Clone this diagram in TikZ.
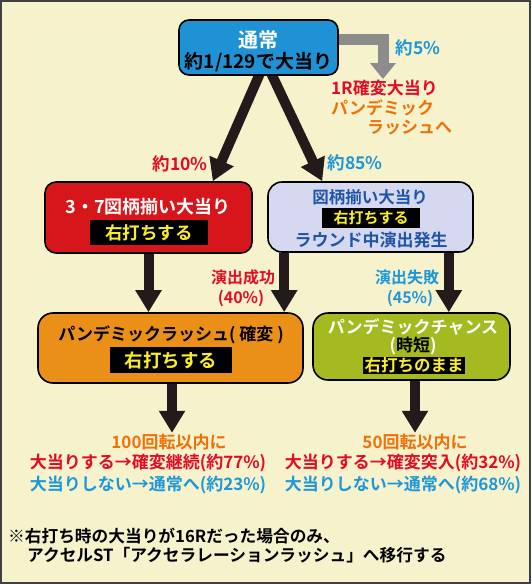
\documentclass[tikz,border=0pt]{standalone}
\usepackage{fontspec}
\setmainfont{Noto Sans CJK JP}[BoldFont = {Noto Sans CJK JP Bold}]
\usetikzlibrary{arrows.meta}

\definecolor{cream}{RGB}{246,243,204}
\definecolor{boxblue}{RGB}{30,146,212}
\definecolor{boxred}{RGB}{214,22,27}
\definecolor{boxlav}{RGB}{214,216,240}
\definecolor{boxorange}{RGB}{234,144,24}
\definecolor{boxgreen}{RGB}{164,186,32}
\definecolor{txtred}{RGB}{228,10,35}
\definecolor{txtblue}{RGB}{30,150,218}
\definecolor{txtorange}{RGB}{240,112,10}
\definecolor{txtnavy}{RGB}{30,85,165}
\definecolor{baryellow}{RGB}{250,238,40}
\definecolor{arrowblack}{RGB}{35,27,27}
\definecolor{arrowgray}{RGB}{140,140,140}

\newcommand{\jpsize}[1]{\fontsize{#1}{#1}\selectfont\bfseries}

\pgfdeclarelayer{back}
\pgfsetlayers{back,main}

\begin{document}
\begin{tikzpicture}[x = 1pt, y = -1pt,
        box/.style = {draw = black, line width = 1.6pt, inner sep = 0pt},
        bar/.style = {fill = black, text = baryellow, inner sep = 0pt},
        lbl/.style = {inner sep = 1pt, font = \jpsize{17}},
        fatarrow/.style = {draw = arrowblack, line width = 10pt,
            -{Triangle[length = 22pt, width = 25pt]}}]

    \useasboundingbox (0, 0) rectangle (531, 584);

    % Top box.
    \node[box, fill = boxblue, rounded corners = 10pt, minimum width = 159pt, minimum height = 55pt] (tsujo) at (258.5, 47.5) {};
    \node[lbl, text = white, font = \jpsize{20}] (tsujoA) at (258.5, 40) {通常};
    \node[lbl, text = black, font = \jpsize{19}] (tsujoB) at (258.5, 62) {約1/129で大当り};

    % The 5% branch.
    \node[lbl, text = txtblue, font = \jpsize{17.5}] (p5) at (418, 48) {約5\%};
    \node[lbl, text = txtred, anchor = west] (r1A) at (330, 88) {1R確変大当り};
    \node[lbl, text = txtorange, anchor = west] (r1B) at (330, 108) {パンデミック};
    \node[lbl, text = txtorange, anchor = west] (r1C) at (366, 128) {ラッシュへ};
    \coordinate (gtip) at (383, 79);

    % Red box.
    \node[box, fill = boxred, rounded corners = 11pt, minimum width = 207pt, minimum height = 71pt] (red) at (148.5, 217.5) {};
    \node[lbl, text = white, font = \jpsize{18}] (redA) at (148, 207) {3・7図柄揃い大当り};
    \node[bar, font = \jpsize{17.5}, minimum width = 118pt, minimum height = 25pt] (redB) at (149, 232.5) {右打ちする};
    \node[lbl, text = txtred, font = \jpsize{17.5}] (p10) at (180, 164) {約10\%};

    % Lavender box.
    \node[box, fill = boxlav, rounded corners = 14pt, minimum width = 205pt, minimum height = 70pt] (lav) at (370.5, 217) {};
    \node[lbl, text = txtnavy, font = \jpsize{16.5}] (lavA) at (370, 197) {図柄揃い大当り};
    \node[bar, font = \jpsize{15}, minimum width = 98pt, minimum height = 20pt] (lavB) at (371, 218) {右打ちする};
    \node[lbl, text = txtnavy] (lavC) at (371, 240) {ラウンド中演出発生};
    \node[lbl, text = txtblue, font = \jpsize{17.5}] (p85) at (355, 163) {約85\%};

    % Orange box.
    \node[box, fill = boxorange, rounded corners = 15pt, minimum width = 265pt, minimum height = 70pt] (orng) at (170.5, 348) {};
    \node[lbl, text = black] (orngA) at (171, 335) {パンデミックラッシュ( 確変 )};
    \node[bar, font = \jpsize{18.5}, minimum width = 122pt, minimum height = 26pt] (orngB) at (171, 360) {右打ちする};
    \node[lbl, text = txtred, font = \jpsize{16}] (okA) at (243, 277) {演出成功};
    \node[lbl, text = txtred, font = \jpsize{16}] (okB) at (241, 298) {(40\%)};

    % Green box.
    \node[box, fill = boxgreen, rounded corners = 15pt, minimum width = 197pt, minimum height = 67pt] (grn) at (411.5, 346.5) {};
    \node[lbl, text = white] (grnA) at (413, 327) {パンデミックチャンス};
    \node[lbl, text = black] (grnB) at (413, 346) {{\color{white}(}時短{\color{white})}};
    \node[bar, font = \jpsize{16.5}, minimum width = 102pt, minimum height = 17pt] (grnC) at (414, 365) {右打ちのまま};
    \node[lbl, text = txtblue, font = \jpsize{16}] (ngA) at (407, 277) {演出失敗};
    \node[lbl, text = txtblue, font = \jpsize{16}] (ngB) at (410, 298) {(45\%)};

    % Results below the boxes.
    \node[lbl, text = txtorange] (k100) at (169, 442) {100回転以内に};
    \node[lbl, text = txtred] (k100A) at (148, 463) {大当りする→確変継続(約77\%)};
    \node[lbl, text = txtblue] (k100B) at (148, 485) {大当りしない→通常へ(約23\%)};
    \node[lbl, text = txtorange] (k50) at (415, 442) {50回転以内に};
    \node[lbl, text = txtred] (k50A) at (403, 463) {大当りする→確変突入(約32\%)};
    \node[lbl, text = txtblue] (k50B) at (403, 485) {大当りしない→通常へ(約68\%)};

    % Footnote.
    \node[lbl, text = black, font = \jpsize{16.7}, anchor = west] (noteA) at (7, 536) {※右打ち時の大当りが16Rだった場合のみ、};
    \node[lbl, text = black, font = \jpsize{16.7}, anchor = west] (noteB) at (26, 555) {アクセルST「アクセラレーションラッシュ」へ移行する};

    \begin{pgfonlayer}{back}
        % Background and frame.
        \draw[fill = cream, draw = black!75, line width = 2pt] (1, 1) rectangle (530, 583);

        % Arrows between the boxes.
        \draw[draw = arrowgray, line width = 11pt, -{Triangle[length = 16pt, width = 25pt]}]
            ([yshift = 8.5pt]tsujo.east) -| (gtip);
        \draw[fatarrow] ([xshift = 3pt, yshift = 6pt]tsujo.south) to ([xshift = -40pt]red.north east);
        \draw[fatarrow] ([xshift = 11pt, yshift = 6pt]tsujo.south) to ([xshift = 55pt]lav.north west);
        \draw[fatarrow] (red.south) to (red.south |- orng.north);
        \draw[fatarrow] ([xshift = 17pt]lav.south west) to ([xshift = 17pt]lav.south west |- orng.north);
        \draw[fatarrow] ([xshift = -25pt]lav.south east) to ([xshift = -25pt]lav.south east |- grn.north);
        \draw[fatarrow] ([xshift = 1.5pt]orng.south) to ([xshift = 1.5pt]orng.south |- k100.north);
        \draw[fatarrow] ([xshift = 3.5pt]grn.south) to ([xshift = 3.5pt]grn.south |- k50.north);
    \end{pgfonlayer}
\end{tikzpicture}
\end{document}
